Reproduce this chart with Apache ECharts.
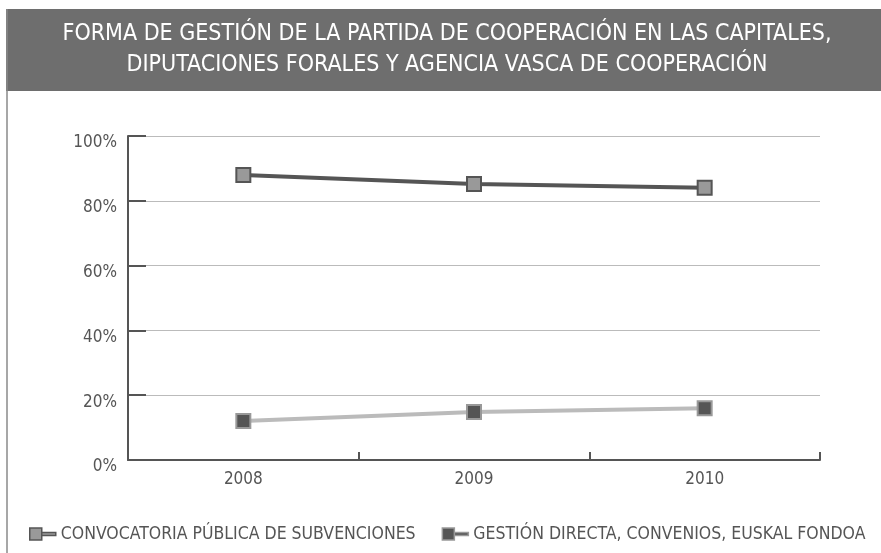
<!DOCTYPE html>
<html>
<head>
<meta charset="utf-8">
<script src="https://cdn.jsdelivr.net/npm/echarts@6/dist/echarts.min.js"></script>
<style>
  html, body { margin: 0; padding: 0; background: #fff; }
  #chart { width: 881px; height: 553px; }
</style>
</head>
<body>
<div id="chart"></div>
<script>
const years = ["2008", "2009", "2010"];
const convocatoria = [88, 85.2, 84];
const gestionDirecta = [12, 14.8, 16];
const seriesNames = [
  "CONVOCATORIA PÚBLICA DE SUBVENCIONES",
  "GESTIÓN DIRECTA, CONVENIOS, EUSKAL FONDOA"
];
const titleLines = [
  "FORMA DE GESTIÓN DE LA PARTIDA DE COOPERACIÓN EN LAS CAPITALES,",
  "DIPUTACIONES FORALES Y AGENCIA VASCA DE COOPERACIÓN"
];

const font = "'Liberation Sans Narrow', 'DejaVu Sans Condensed', sans-serif";
const dark = "#555555";
const mid = "#999999";
const light = "#bbbbbb";
const legendIcon = "path://M0,0H12V12H0Z M12,4.5H26V7.5H12Z";

const chart = echarts.init(document.getElementById("chart"));

chart.setOption({
  animation: false,
  backgroundColor: "#fff",
  graphic: [
    {
      type: "rect",
      shape: { x: 6, y: 9, width: 880, height: 82 },
      style: { fill: "#6e6e6e" }
    },
    {
      type: "line",
      shape: { x1: 7, y1: 9, x2: 7, y2: 553 },
      style: { stroke: "#8a8a8a", lineWidth: 1.5 }
    },
    {
      type: "text",
      x: 447,
      y: 50,
      style: {
        text: titleLines.join("\n"),
        fill: "#fff",
        font: "23px " + font,
        lineHeight: 31,
        align: "center",
        verticalAlign: "middle"
      }
    }
  ],
  legend: {
    left: 24,
    top: 520,
    itemWidth: 26,
    itemHeight: 12,
    itemGap: 26,
    icon: legendIcon,
    textStyle: { color: dark, fontSize: 17.5, fontFamily: font },
    data: [
      { name: seriesNames[0], itemStyle: { color: mid, borderColor: dark, borderWidth: 1.5 } },
      { name: seriesNames[1], itemStyle: { color: dark, borderColor: mid, borderWidth: 1.5 } }
    ]
  },
  grid: { left: 128, right: 61, top: 136, bottom: 93 },
  xAxis: {
    type: "category",
    data: years,
    boundaryGap: true,
    axisLine: { lineStyle: { color: dark, width: 2 } },
    axisTick: { show: true, inside: true, length: 8, lineStyle: { color: dark, width: 2 } },
    axisLabel: { color: dark, fontSize: 17, fontFamily: font, margin: 11 }
  },
  yAxis: {
    type: "value",
    min: 0,
    max: 100,
    interval: 20,
    axisLine: { show: true, lineStyle: { color: dark, width: 2 } },
    axisTick: { show: true, inside: true, length: 18, lineStyle: { color: dark, width: 2 } },
    axisLabel: {
      color: dark, fontSize: 17, fontFamily: font, margin: 11,
      verticalAlign: "top", lineHeight: 14, formatter: "{value}%"
    },
    splitLine: { lineStyle: { color: light, width: 1 } }
  },
  series: [
    {
      name: seriesNames[0],
      type: "line",
      data: convocatoria,
      symbol: "rect",
      symbolSize: 14,
      lineStyle: { color: dark, width: 4 },
      itemStyle: { color: mid, borderColor: dark, borderWidth: 2 }
    },
    {
      name: seriesNames[1],
      type: "line",
      data: gestionDirecta,
      symbol: "rect",
      symbolSize: 14,
      lineStyle: { color: light, width: 4 },
      itemStyle: { color: dark, borderColor: mid, borderWidth: 2 }
    }
  ]
});
</script>
</body>
</html>
